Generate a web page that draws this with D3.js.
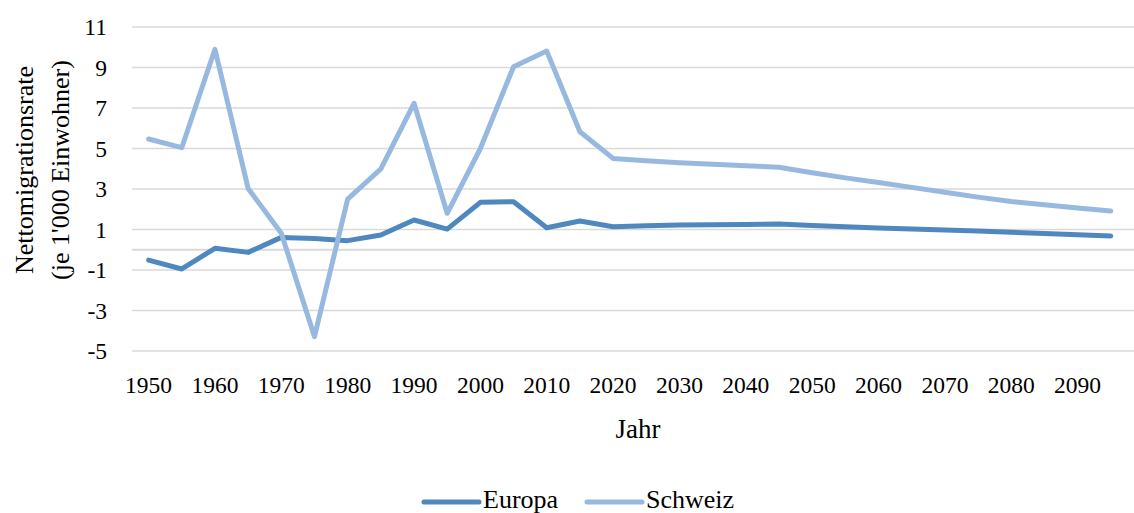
<!DOCTYPE html>
<meta charset="utf-8">
<script src="https://d3js.org/d3.v7.min.js"></script>
<style>
  body { margin: 0; background: #fff; }
  text { font-family: "Liberation Serif", serif; fill: #000; }
</style>
<div id="chart"></div>
<script>

// data
const years = [1950,1955,1960,1965,1970,1975,1980,1985,1990,1995,2000,2005,2010,2015,2020,
               2025,2030,2035,2040,2045,2050,2055,2060,2065,2070,2075,2080,2085,2090,2095];
const europa = [-0.51,-0.95,0.07,-0.13,0.61,0.56,0.45,0.73,1.47,1.02,2.34,2.37,1.09,1.42,1.14,
                1.19,1.22,1.24,1.25,1.27,1.20,1.13,1.08,1.03,0.98,0.92,0.86,0.80,0.74,0.68];
const schweiz = [5.47,5.04,9.9,3.03,0.81,-4.29,2.5,3.99,7.23,1.8,5.0,9.04,9.81,5.83,4.51,
                 4.40,4.30,4.22,4.15,4.07,3.80,3.55,3.32,3.08,2.84,2.60,2.38,2.22,2.06,1.91];
const xTicks = d3.range(1950, 2091, 10);
const yTicks = [-5,-3,-1,1,3,5,7,9,11];
const seriesNames = ["Europa", "Schweiz"];
const colors = ["#4e88bf", "#97b9e0"];

const width = 1134, height = 513;
const svg = d3.select("#chart").append("svg")
    .attr("width", width).attr("height", height);

const x = d3.scaleLinear().domain([1947.5, 2098.5]).range([132, 1134]);
const y = d3.scaleLinear().domain([-5, 11]).range([351, 27]);

// grid lines (plus the zero line)
svg.append("g")
  .selectAll("line")
  .data(yTicks.concat([0]))
  .join("line")
    .attr("x1", x.range()[0]).attr("x2", x.range()[1])
    .attr("y1", d => y(d)).attr("y2", d => y(d))
    .attr("stroke", "#d9d9d9")
    .attr("stroke-width", d => d === 0 ? 2 : 1.5);

// y axis labels
svg.append("g")
  .selectAll("text")
  .data(yTicks)
  .join("text")
    .attr("x", 107).attr("y", d => y(d))
    .attr("dy", "0.35em")
    .attr("text-anchor", "end")
    .style("font-size", "23.5px")
    .text(d => d);

// x axis labels
svg.append("g")
  .selectAll("text")
  .data(xTicks)
  .join("text")
    .attr("x", d => x(d)).attr("y", 385)
    .attr("dy", "0.35em")
    .attr("text-anchor", "middle")
    .style("font-size", "23.5px")
    .text(d => d);

// axis titles
svg.append("text")
  .attr("x", 638).attr("y", 438)
  .attr("text-anchor", "middle")
  .style("font-size", "27px")
  .text("Jahr");

const yt = svg.append("text")
  .attr("transform", "translate(0,170) rotate(-90)")
  .attr("text-anchor", "middle")
  .style("font-size", "26px");
yt.append("tspan").attr("x", 0).attr("y", 33).text("Nettomigrationsrate");
yt.append("tspan").attr("x", 0).attr("y", 69).text("(je 1'000 Einwohner)");

// lines
const allSeries = [europa, schweiz];
const line = d3.line()
  .x((d, i) => x(years[i]))
  .y(d => y(d));

svg.append("g")
  .selectAll("path")
  .data(allSeries)
  .join("path")
    .attr("d", line)
    .attr("fill", "none")
    .attr("stroke", (d, i) => colors[i])
    .attr("stroke-width", 5)
    .attr("stroke-linejoin", "round")
    .attr("stroke-linecap", "round");

// legend
const legendX = [424, 587];
const legend = svg.append("g")
  .selectAll("g")
  .data(seriesNames)
  .join("g")
    .attr("transform", (d, i) => `translate(${legendX[i]},502)`);
legend.append("line")
  .attr("x1", 0).attr("x2", 55)
  .attr("stroke", (d, i) => colors[i])
  .attr("stroke-width", 5)
  .attr("stroke-linecap", "round");
legend.append("text")
  .attr("x", 59).attr("y", 6)
  .style("font-size", "26px")
  .text(d => d);

</script>
